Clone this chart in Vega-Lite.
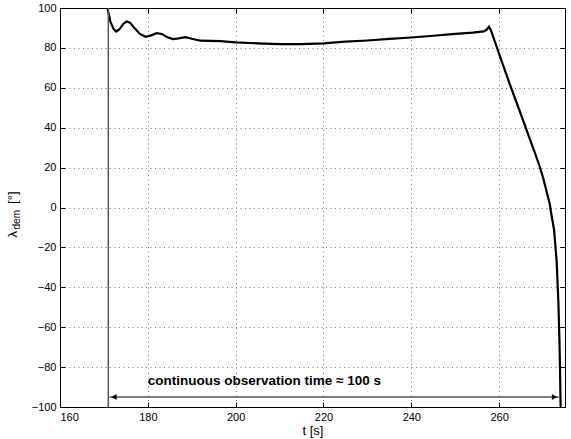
{
  "$schema": "https://vega.github.io/schema/vega-lite/v6.json",
  "width": 505,
  "height": 399,
  "autosize": {"type": "none"},
  "padding": {"left": 60, "top": 8, "right": 6, "bottom": 32},
  "background": "white",
  "config": {
    "view": {"stroke": "black", "strokeWidth": 1},
    "font": "Liberation Sans",
    "axis": {
      "labelFont": "Liberation Sans",
      "labelFontSize": 11,
      "labelColor": "black",
      "titleFont": "Liberation Sans",
      "titleFontSize": 13,
      "titleFontWeight": "normal",
      "titleColor": "black",
      "domainColor": "black",
      "tickColor": "black",
      "tickSize": -5,
      "labelPadding": 9,
      "gridColor": "#777777",
      "gridDash": [1, 3.5],
      "gridCap": "butt",
      "gridWidth": 1
    }
  },
  "datasets": {
    "curve": [
      {"t": 170.8, "v": 100}, {"t": 171.5, "v": 93}, {"t": 172.2, "v": 89.5}, {"t": 172.8, "v": 88.2},
      {"t": 173.5, "v": 89.2}, {"t": 174.4, "v": 92}, {"t": 175.2, "v": 93.3}, {"t": 176.0, "v": 92.5},
      {"t": 177.0, "v": 89.8}, {"t": 178.2, "v": 87.0}, {"t": 179.5, "v": 85.6}, {"t": 180.8, "v": 86.3},
      {"t": 182.0, "v": 87.4}, {"t": 183.2, "v": 87.0}, {"t": 184.5, "v": 85.3}, {"t": 185.7, "v": 84.4},
      {"t": 187.0, "v": 84.8}, {"t": 188.6, "v": 85.4}, {"t": 190.0, "v": 84.6}, {"t": 192.0, "v": 83.6},
      {"t": 196.5, "v": 83.4}, {"t": 200, "v": 82.8}, {"t": 205, "v": 82.3}, {"t": 210, "v": 81.9},
      {"t": 215, "v": 81.9}, {"t": 220, "v": 82.3}, {"t": 225, "v": 83.1}, {"t": 230, "v": 83.7},
      {"t": 235, "v": 84.5}, {"t": 240, "v": 85.2}, {"t": 245, "v": 86.1}, {"t": 250, "v": 87.0},
      {"t": 254, "v": 87.7}, {"t": 256.5, "v": 88.3}, {"t": 257.2, "v": 89.2}, {"t": 257.7, "v": 90.6},
      {"t": 258.1, "v": 89.0}, {"t": 260.0, "v": 77.0}, {"t": 262.4, "v": 62.0}, {"t": 264.5, "v": 49.5},
      {"t": 266.5, "v": 37.3}, {"t": 268.0, "v": 28.3}, {"t": 269.2, "v": 20.8}, {"t": 270.0, "v": 15.0},
      {"t": 270.7, "v": 9.0}, {"t": 271.5, "v": 2.0}, {"t": 271.9, "v": -3.5}, {"t": 272.5, "v": -11},
      {"t": 273.1, "v": -27}, {"t": 273.5, "v": -48}, {"t": 273.75, "v": -68},
      {"t": 273.9, "v": -86}, {"t": 274.0, "v": -100}
    ]
  },
  "resolve": {"axis": {"x": "independent", "y": "independent"}},
  "layer": [
    {
      "data": {"name": "curve"},
      "mark": {"type": "line", "color": "black", "strokeWidth": 2.2, "clip": true},
      "encoding": {
        "x": {"field": "t", "type": "quantitative",
              "scale": {"domain": [160, 275], "nice": false, "zero": false},
              "axis": {"values": [160, 180, 200, 220, 240, 260], "title": "t [s]", "grid": true, "titlePadding": 2}},
        "y": {"field": "v", "type": "quantitative",
              "scale": {"domain": [-100, 100], "nice": false, "zero": false},
              "axis": {"values": [-100, -80, -60, -40, -20, 0, 20, 40, 60, 80, 100], "title": null, "grid": true,
                       "labelExpr": "replace(datum.label, '-', '\u2212')"}}
      }
    },
    {
      "data": {"values": [{"t": 160, "v": 0}]},
      "mark": {"type": "point", "opacity": 0},
      "encoding": {
        "x": {"field": "t", "type": "quantitative",
              "axis": {"orient": "top", "values": [160, 180, 200, 220, 240, 260], "labels": false, "title": null, "grid": false}},
        "y": {"field": "v", "type": "quantitative",
              "axis": {"orient": "right", "values": [-100, -80, -60, -40, -20, 0, 20, 40, 60, 80, 100], "labels": false, "title": null, "grid": false}}
      }
    },
    {
      "data": {"values": [{"t": 171}]},
      "mark": {"type": "rule", "color": "#555555", "strokeWidth": 1.5},
      "encoding": {
        "x": {"field": "t", "type": "quantitative", "axis": null}
      }
    },
    {
      "data": {"values": [{"t1": 171.3, "t2": 273.6, "v": -95}]},
      "mark": {"type": "rule", "color": "black", "strokeWidth": 1},
      "encoding": {
        "x": {"field": "t1", "type": "quantitative", "axis": null},
        "x2": {"field": "t2"},
        "y": {"field": "v", "type": "quantitative", "axis": null}
      }
    },
    {
      "data": {"values": [{"t": 172.3, "v": -95, "s": "triangle-left"}, {"t": 272.6, "v": -95, "s": "triangle-right"}]},
      "mark": {"type": "point", "filled": true, "color": "black", "opacity": 1, "size": 35},
      "encoding": {
        "x": {"field": "t", "type": "quantitative", "axis": null},
        "y": {"field": "v", "type": "quantitative", "axis": null},
        "shape": {"field": "s", "type": "nominal", "scale": null, "legend": null}
      }
    },
    {
      "data": {"values": [{"t": 180, "v": -87, "label": "continuous observation time \u2248 100 s"}]},
      "mark": {"type": "text", "align": "left", "baseline": "middle", "fontWeight": "bold", "fontSize": 13.5, "font": "Liberation Sans", "color": "black"},
      "encoding": {
        "x": {"field": "t", "type": "quantitative", "axis": null},
        "y": {"field": "v", "type": "quantitative", "axis": null},
        "text": {"field": "label"}
      }
    },
    {
      "data": {"values": [
        {"t": 149.4, "v": -15, "label": "\u03bb", "fs": 13},
        {"t": 150.3, "v": -11.0, "label": "dem", "fs": 10},
        {"t": 149.4, "v": 1.8, "label": "[\u00b0]", "fs": 13}
      ]},
      "mark": {"type": "text", "align": "left", "baseline": "middle", "angle": 270, "font": "Liberation Sans", "color": "black"},
      "encoding": {
        "x": {"field": "t", "type": "quantitative", "axis": null},
        "y": {"field": "v", "type": "quantitative", "axis": null},
        "text": {"field": "label"},
        "size": {"field": "fs", "type": "quantitative", "scale": null, "legend": null}
      }
    }
  ]
}
